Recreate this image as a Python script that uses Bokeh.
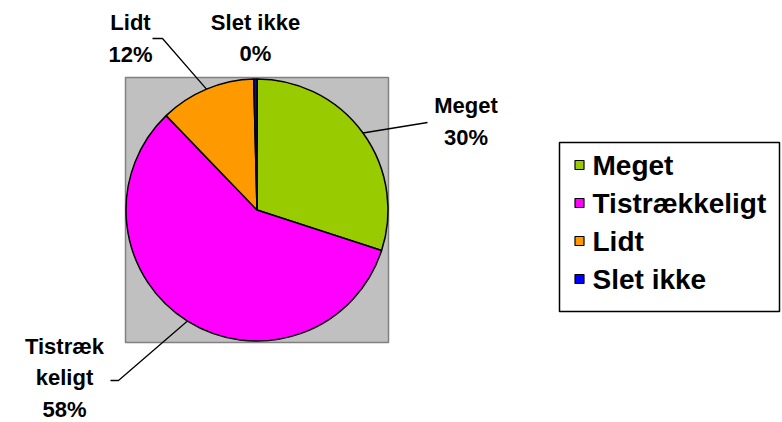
import math
from bokeh.plotting import figure
from bokeh.models import Range1d, ColumnDataSource
from bokeh.core.properties import value
from bokeh.embed import file_html
from bokeh.resources import INLINE

# ---- data ----
categories = ["Meget", "Tistrækkeligt", "Lidt", "Slet ikke"]
shares = [30.0, 57.8, 11.8, 0.4]
label_names = [["Meget"], ["Tistræk", "keligt"], ["Lidt"], ["Slet ikke"]]
colors = ["#99CC00", "#FF00FF", "#FF9900", "#0000FF"]

# ---- layout (reference pixel coordinates; y measured downward) ----
W, H = 782, 422
OFF = 0
FONT = value("Liberation Sans")
CX, CY, R = 256.5, 209.5, 131.0
PLOT_AREA = (125, 388, 77, 342)  # left, right, top, bottom
label_pos = {"Meget": (465.5, 113), "Tistrækkeligt": (64, 353.5),
             "Lidt": (130, 30), "Slet ikke": (255, 29.5)}
label_pitch = 31.5
LABEL_SIZE, LABEL_SHIFT = 22, 8
leader_start = {"Meget": [(427, 122)],
                "Tistrækkeligt": [(110, 380), (118, 380)],
                "Lidt": [(152, 38), (162, 38)]}
LEG = (559, 779, 142, 311)
leg_square_x, leg_text_x, leg_base0, leg_pitch = 579, 592, 175, 38
LEG_SIZE, LEG_SHIFT = 28, 10

p = figure(width=W, height=H, x_range=Range1d(OFF, OFF + W),
           y_range=Range1d(-(OFF + H), -OFF), output_backend="svg",
           toolbar_location=None, x_axis_location=None, y_axis_location=None,
           min_border=0, outline_line_color=None,
           background_fill_color="white", border_fill_color="white")
p.grid.visible = False

# plot area background
l, r, t, b = PLOT_AREA
p.quad(left=[l], right=[r], top=[-t], bottom=[-b], fill_color="#C0C0C0",
       line_color="#808080", line_width=1.5)

# wedges
total = sum(shares)
starts, ends, mids = [], [], []
cum = 0.0
for v in shares:
    a0 = math.pi / 2 - 2 * math.pi * cum / total
    a1 = math.pi / 2 - 2 * math.pi * (cum + v) / total
    starts.append(a0)
    ends.append(a1)
    mids.append((a0 + a1) / 2)
    cum += v
src = ColumnDataSource(dict(cat=categories, start=starts, end=ends, color=colors))
p.wedge(x=CX, y=-CY, radius=R, start_angle="start", end_angle="end",
        direction="clock", fill_color="color", line_color="black",
        line_width=1.5, source=src)

# labels and leader lines
tx, ty, tt = [], [], []
for cat, names, v, m in zip(categories, label_names, shares, mids):
    x0, y0 = label_pos[cat]
    lines = names + [f"{round(v)}%"]
    for i, s in enumerate(lines):
        tx.append(x0)
        ty.append(-(y0 + i * label_pitch - LABEL_SHIFT))
        tt.append(s)
    if cat in leader_start:
        pts = leader_start[cat]
        xs = [pt[0] for pt in pts] + [CX + R * math.cos(m)]
        ys = [-pt[1] for pt in pts] + [-CY + R * math.sin(m)]
        p.line(xs, ys, line_color="black", line_width=1.3)
p.text(x=tx, y=ty, text=tt, text_font=FONT, text_font_style="bold",
       text_font_size=f"{LABEL_SIZE}px", text_align="center",
       text_baseline="alphabetic", text_color="black")

# legend
l, r, t, b = LEG
p.quad(left=[l], right=[r], top=[-t], bottom=[-b], fill_color="white",
       line_color="black", line_width=1.5)
base = [leg_base0 + i * leg_pitch for i in range(len(categories))]
p.rect(x=[leg_square_x] * len(categories), y=[-(y - 10.5) for y in base],
       width=9, height=9, fill_color=colors, line_color="black", line_width=1.2)
p.text(x=[leg_text_x] * len(categories), y=[-(y - LEG_SHIFT) for y in base],
       text=categories, text_font=FONT, text_font_style="bold",
       text_font_size=f"{LEG_SIZE}px", text_align="left",
       text_baseline="alphabetic", text_color="black")

open("out.html", "w").write(file_html(p, INLINE))
